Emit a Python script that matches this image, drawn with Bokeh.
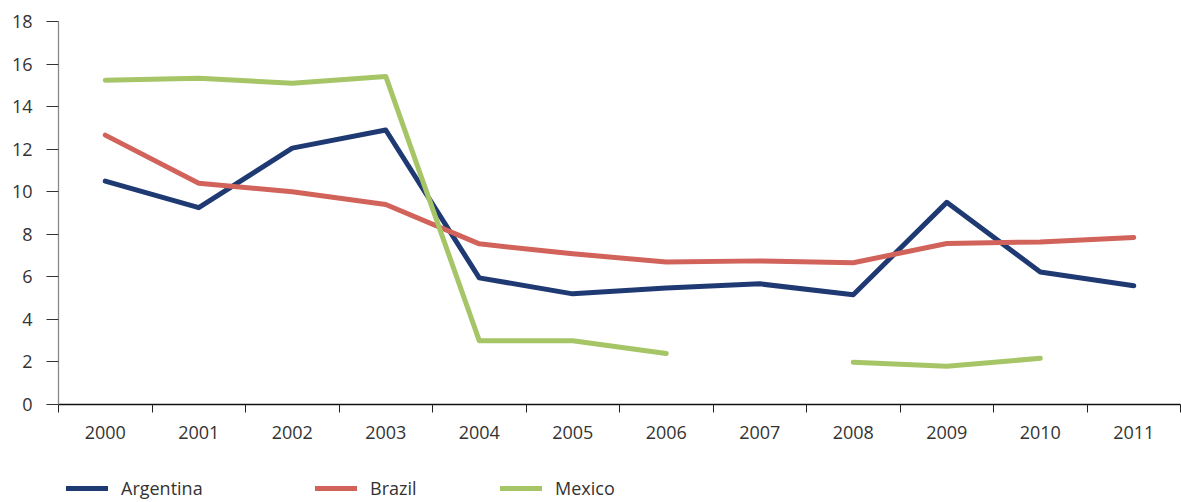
from bokeh.plotting import figure
from bokeh.models import Range1d, FixedTicker, Legend, LegendItem
from bokeh.layouts import column
from bokeh.embed import file_html
from bokeh.resources import INLINE

years = ["2000", "2001", "2002", "2003", "2004", "2005",
         "2006", "2007", "2008", "2009", "2010", "2011"]
argentina = [10.5, 9.25, 12.05, 12.9, 5.95, 5.2, 5.48, 5.67, 5.16, 9.5, 6.23, 5.58]
brazil = [12.66, 10.4, 10.0, 9.4, 7.55, 7.08, 6.7, 6.75, 6.66, 7.57, 7.64, 7.85]
mexico = [15.24, 15.33, 15.1, 15.42, 3.0, 3.0, 2.4, float("nan"), 1.98, 1.8, 2.17, float("nan")]
y_ticks = [0, 2, 4, 6, 8, 10, 12, 14, 16, 18]
series_names = ["Argentina", "Brazil", "Mexico"]

colors = {"Argentina": "#1F3A73", "Brazil": "#D1635B", "Mexico": "#A6C567"}
FONT = "Open Sans"

xs = [i + 0.5 for i in range(len(years))]
series = dict(zip(series_names, [argentina, brazil, mexico]))

p = figure(width=1181, height=450, output_backend="svg", toolbar_location=None,
           x_range=Range1d(0, len(years)), y_range=Range1d(0, 18),
           min_border_left=58, min_border_right=1, min_border_top=21, min_border_bottom=46)
p.outline_line_color = None
p.xgrid.visible = False
p.ygrid.visible = False

for name in series_names:
    p.line(xs, series[name], line_color=colors[name], line_width=5,
           line_cap="round", line_join="round")

# x axis: labels at centers, tick marks at category boundaries
xa = p.xaxis[0]
xa.ticker = FixedTicker(ticks=xs, minor_ticks=list(range(len(years) + 1)))
xa.major_label_overrides = {x: y for x, y in zip(xs, years)}
xa.major_tick_line_color = None
xa.major_tick_out = 0
xa.major_tick_in = 0
xa.minor_tick_out = 8
xa.minor_tick_in = 0
xa.minor_tick_line_color = "#222222"
xa.axis_line_color = "#111111"
xa.axis_line_width = 1.3
xa.major_label_text_font = FONT
xa.major_label_text_font_size = "18px"
xa.major_label_text_color = "#333333"
xa.major_label_standoff = 13

ya = p.yaxis[0]
ya.ticker = FixedTicker(ticks=y_ticks)
ya.minor_tick_line_color = None
ya.major_tick_out = 12
ya.major_tick_in = 0
ya.major_tick_line_color = "#333333"
ya.axis_line_color = "#8a8a8a"
ya.axis_line_width = 1.3
ya.major_label_text_font = FONT
ya.major_label_text_font_size = "18px"
ya.major_label_text_color = "#333333"
ya.major_label_standoff = 14

# legend strip (series drawn off-screen; only the legend entries are visible)
lf = figure(width=1181, height=52, output_backend="svg", toolbar_location=None,
            x_range=Range1d(1000, 1001), y_range=Range1d(1000, 1001),
            x_axis_type=None, y_axis_type=None,
            min_border_left=0, min_border_right=0, min_border_top=0, min_border_bottom=0)
lf.outline_line_color = None
lf.xgrid.visible = False
lf.ygrid.visible = False

legend_x = {"Argentina": 8, "Brazil": 257, "Mexico": 442}
for name in series_names:
    r = lf.line(xs, series[name], line_color=colors[name], line_width=5, line_cap="round")
    lg = Legend(items=[LegendItem(label=name, renderers=[r])],
                location=(legend_x[name], 2), orientation="horizontal",
                padding=0, margin=0, spacing=0, border_line_color=None,
                background_fill_alpha=0, glyph_width=42, glyph_height=24,
                label_height=24, label_standoff=13, label_text_font=FONT,
                label_text_font_size="18px", label_text_color="#333333")
    lf.add_layout(lg, "center")

layout = column(p, lf, spacing=0)
open("out.html", "w").write(file_html(layout, INLINE))
